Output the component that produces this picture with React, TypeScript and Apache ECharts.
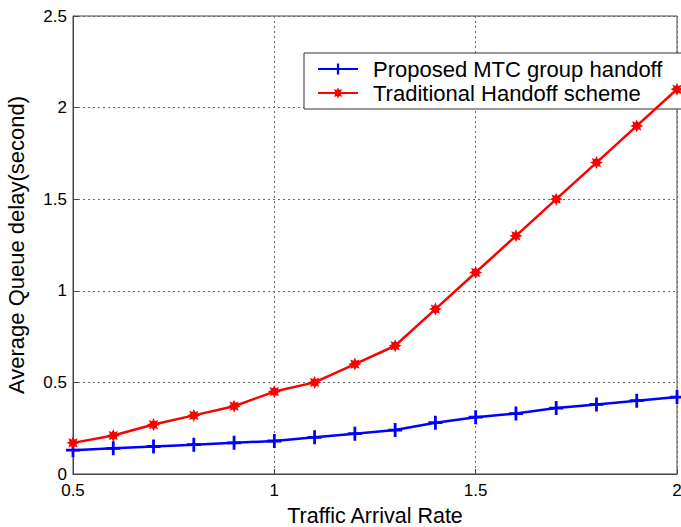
import React, { useEffect, useRef } from "react";
import * as echarts from "echarts";

const xValues = [0.5, 0.6, 0.7, 0.8, 0.9, 1.0, 1.1, 1.2, 1.3, 1.4, 1.5, 1.6, 1.7, 1.8, 1.9, 2.0];
const proposedMTC = [0.13, 0.14, 0.15, 0.16, 0.17, 0.18, 0.2, 0.22, 0.24, 0.28, 0.31, 0.33, 0.36, 0.38, 0.4, 0.42];
const traditional = [0.17, 0.21, 0.27, 0.32, 0.37, 0.45, 0.5, 0.6, 0.7, 0.9, 1.1, 1.3, 1.5, 1.7, 1.9, 2.1];
const seriesNames = ["Proposed MTC group handoff", "Traditional Handoff scheme"];
const xTitle = "Traffic Arrival Rate";
const yTitle = "Average Queue delay(second)";

const plusPath = "path://M4,0h2v4h4v2h-4v4h-2v-4h-4v-2h4z";

function starPath(): string {
  const pts: string[] = [];
  for (let i = 0; i < 16; i++) {
    const a = (Math.PI / 8) * i - Math.PI / 2;
    const r = i % 2 === 0 ? 6 : 3.4;
    pts.push(`${(r * Math.cos(a)).toFixed(3)},${(r * Math.sin(a)).toFixed(3)}`);
  }
  return "path://M" + pts.join("L") + "Z";
}

const FONT = "Liberation Sans, Arial, Helvetica, sans-serif";

export default function App() {
  const ref = useRef<HTMLDivElement>(null);
  useEffect(() => {
    if (!ref.current) return;
    const chart = echarts.init(ref.current, undefined, { renderer: "svg" });
    const gridLine = { show: true, lineStyle: { color: "#6a6a6a", type: [2, 3] as any, width: 1 } };
    chart.setOption({
      animation: false,
      backgroundColor: "#ffffff",
      textStyle: { fontFamily: FONT },
      grid: {
        left: 73,
        top: 16,
        right: 4,
        bottom: 53,
        outerBoundsMode: "none",
        containLabel: false,
        show: true,
        borderColor: "#444",
        borderWidth: 1,
        backgroundColor: "transparent",
      },
      legend: {
        orient: "vertical",
        left: 304,
        top: 53,
        backgroundColor: "#fff",
        borderColor: "#333",
        borderWidth: 1,
        padding: [4, 21, 4, 13],
        itemWidth: 40,
        itemHeight: 14,
        itemGap: 0,
        textStyle: { fontSize: 22, lineHeight: 24, color: "#000", fontFamily: FONT, padding: [0, 0, 0, 10] },
        data: seriesNames,
      },
      xAxis: {
        type: "value",
        min: 0.5,
        max: 2,
        interval: 0.5,
        name: xTitle,
        nameLocation: "middle",
        nameGap: 31,
        nameTextStyle: { fontSize: 21.5, color: "#000", fontFamily: FONT },
        axisLine: { show: true, lineStyle: { color: "#444" } },
        axisTick: { show: true, inside: true, length: 5, lineStyle: { color: "#444" } },
        axisLabel: { fontSize: 17, color: "#000", margin: 8, fontFamily: FONT, formatter: (v: number) => String(v) },
        splitLine: gridLine,
      },
      yAxis: {
        type: "value",
        min: 0,
        max: 2.5,
        interval: 0.5,
        name: yTitle,
        nameLocation: "middle",
        nameGap: 46,
        nameTextStyle: { fontSize: 22, color: "#000", fontFamily: FONT },
        axisLine: { show: true, lineStyle: { color: "#444" } },
        axisTick: { show: true, inside: true, length: 5, lineStyle: { color: "#444" } },
        axisLabel: { fontSize: 17, color: "#000", margin: 6, fontFamily: FONT, formatter: (v: number) => String(v) },
        splitLine: gridLine,
      },
      series: [
        {
          name: seriesNames[0],
          type: "line",
          data: xValues.map((x, i) => [x, proposedMTC[i]]),
          symbol: plusPath,
          symbolSize: 14,
          lineStyle: { color: "#0000ff", width: 2.5 },
          itemStyle: { color: "#0000ff" },
          clip: false,
          z: 3,
        },
        {
          name: seriesNames[1],
          type: "line",
          data: xValues.map((x, i) => [x, traditional[i]]),
          symbol: starPath(),
          symbolSize: 13,
          lineStyle: { color: "#ff0000", width: 2.5 },
          itemStyle: { color: "#ff0000" },
          clip: false,
          z: 4,
        },
      ],
    });
    return () => chart.dispose();
  }, []);
  return (
    <div
      ref={ref}
      style={{ position: "absolute", left: 0, top: 0, width: 681, height: 527 }}
    />
  );
}
